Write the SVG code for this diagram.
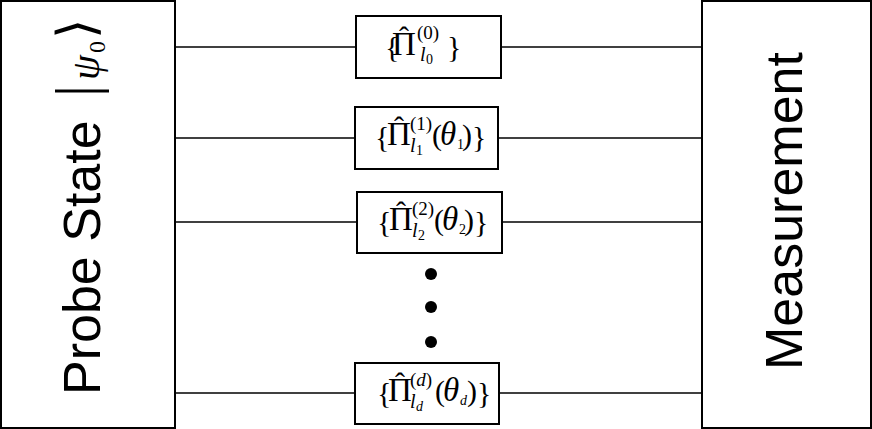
<svg xmlns="http://www.w3.org/2000/svg" width="872" height="429" viewBox="0 0 872 429">
<style>
.box{fill:#fff;stroke:#000;stroke-width:2}
.wire{stroke:#000;stroke-width:1.5;fill:none}
.sans{font-family:"Liberation Sans",Arial,sans-serif;fill:#000}
.m{font-family:"Liberation Serif","Times New Roman",serif;fill:#000}
.it{font-style:italic}
.br{font-size:30px}
.big{font-size:33px}
.hat{font-size:30px}
.sup{font-size:19px}
.sub{font-size:20px}
.ss{font-size:14px}
</style>
<g id="connectors">
<line class="wire" x1="175" y1="47" x2="702" y2="47"/>
<line class="wire" x1="175" y1="138" x2="702" y2="138"/>
<line class="wire" x1="175" y1="222" x2="705" y2="222"/>
<line class="wire" x1="175" y1="393" x2="702" y2="393"/>
</g>
<g id="probe">
<rect class="box" x="1" y="1" width="174" height="427"/>
<g transform="translate(100,395) rotate(-90)">
<text class="sans" x="0" y="0" font-size="52">Probe State</text>
<text class="m" x="298" y="-4" font-size="60">|</text>
<text class="m it" x="315" y="-1" font-size="40">ψ</text>
<text class="m" x="342" y="5" font-size="24">0</text>
<text class="m" x="356" y="-6" font-size="52">⟩</text>
</g>
</g>
<g id="measurement">
<rect class="box" x="702" y="1" width="169" height="427"/>
<text class="sans" transform="translate(802,211) rotate(-90)" x="0" y="0" font-size="52" text-anchor="middle">Measurement</text>
</g>
<g id="op0">
<rect class="box" x="356" y="16" width="145" height="62"/>
<text class="m br" x="385" y="57">{</text>
<text class="m big" x="392" y="55">Π</text>
<text class="m hat" x="399" y="47">ˆ</text>
<text class="m sup" x="417" y="39">(0)</text>
<text class="m it sub" x="420" y="61">l</text>
<text class="m ss" x="426" y="64">0</text>
<text class="m br" x="447" y="57">}</text>
</g>
<g id="op1">
<rect class="box" x="355" y="107" width="143" height="62"/>
<text class="m br" x="375" y="147">{</text>
<text class="m big" x="387" y="145">Π</text>
<text class="m hat" x="394" y="137">ˆ</text>
<text class="m sup" x="410" y="130">(1)</text>
<text class="m it sub" x="410" y="152">l</text>
<text class="m ss" x="416" y="155">1</text>
<text class="m br" x="432" y="145">(</text>
<text class="m it big" x="440" y="145">θ</text>
<text class="m ss" x="457" y="149">1</text>
<text class="m br" x="462" y="145">)</text>
<text class="m br" x="472" y="147">}</text>
</g>
<g id="op2">
<rect class="box" x="357" y="192" width="145" height="61"/>
<text class="m br" x="377" y="232">{</text>
<text class="m big" x="389" y="230">Π</text>
<text class="m hat" x="396" y="222">ˆ</text>
<text class="m sup" x="412" y="215">(2)</text>
<text class="m it sub" x="412" y="237">l</text>
<text class="m ss" x="418" y="240">2</text>
<text class="m br" x="434" y="230">(</text>
<text class="m it big" x="442" y="230">θ</text>
<text class="m ss" x="459" y="234">2</text>
<text class="m br" x="464" y="230">)</text>
<text class="m br" x="474" y="232">}</text>
</g>
<g id="dots">
<circle cx="431" cy="274" r="6"/>
<circle cx="431" cy="307" r="6"/>
<circle cx="431" cy="342" r="6"/>
</g>
<g id="opd">
<rect class="box" x="355" y="363" width="144" height="61"/>
<text class="m br" x="377" y="403">{</text>
<text class="m big" x="388" y="401">Π</text>
<text class="m hat" x="395" y="393">ˆ</text>
<text class="m sup" x="410" y="386">(<tspan class="it">d</tspan>)</text>
<text class="m it sub" x="410" y="408">l</text>
<text class="m it ss" x="416" y="411">d</text>
<text class="m br" x="435" y="401">(</text>
<text class="m it big" x="443" y="401">θ</text>
<text class="m it ss" x="460" y="405">d</text>
<text class="m br" x="467" y="401">)</text>
<text class="m br" x="477" y="403">}</text>
</g>
</svg>
